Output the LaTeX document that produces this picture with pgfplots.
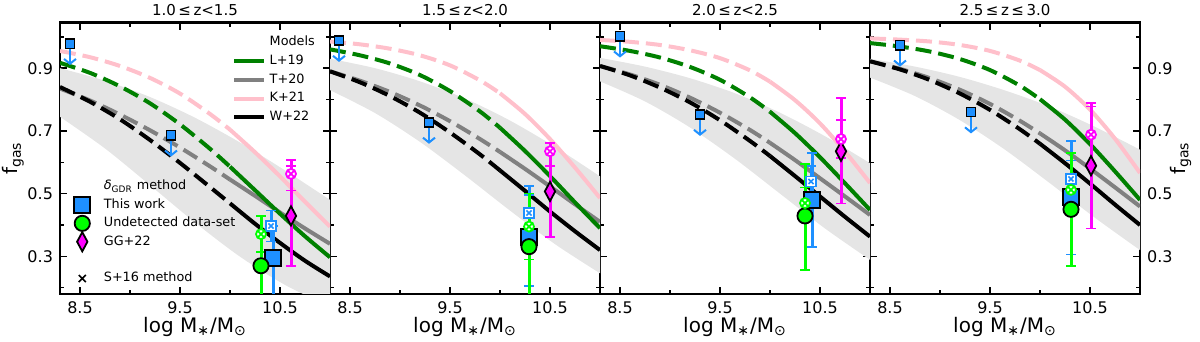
\documentclass[border=0pt]{standalone}
\usepackage{fontspec}
\setmainfont{DejaVu Sans}
\usepackage{pgfplots}
\pgfplotsset{compat=1.18}
\usepgfplotslibrary{groupplots,fillbetween}
\usetikzlibrary{arrows.meta,plotmarks}

\definecolor{mgreen}{HTML}{008000}
\definecolor{mgray}{HTML}{808080}
\definecolor{mpink}{HTML}{FFC0CB}
\definecolor{dblue}{HTML}{1E90FF}
\definecolor{lime}{HTML}{00FF00}
\definecolor{mag}{HTML}{FF00FF}
\definecolor{bandc}{HTML}{E5E5E5}

\pgfplotsset{
  panel/.style={width=135pt, height=135.65pt, scale only axis,
    xmin=8.3, xmax=11.0, ymin=0.18, ymax=1.045,
    xtick={8.5,9.5,10.5}, minor xtick={9,10,11},
    ytick={0.3,0.5,0.7,0.9}, minor ytick={0.2,0.4,0.6,0.8,1.0},
    tick align=inside, major tick length=3.5pt, minor tick length=2pt,
    every tick/.style={black, line width=0.7pt},
    axis line style={line width=1.4pt},
    tick label style={font=\fontsize{8}{9}\selectfont},
    xticklabel shift=0.5pt,
    /pgf/number format/assume math mode=true,
    /pgf/number format/fixed, /pgf/number format/precision=1, /pgf/number format/fixed zerofill,
    xlabel={log M\textsubscript{∗}/M\textsubscript{⊙}},
    xlabel shift=-5.5pt,
    label style={font=\fontsize{10}{11}\selectfont},
    every axis title shift=0pt,
    title style={font=\fontsize{7.5}{8}\selectfont},
    clip=true},
  mdash/.style={line width=2pt, dash pattern=on 8pt off 3.5pt, smooth, no marks},
  msol/.style={line width=2pt, smooth, no marks},
  bedge/.style={draw=none, smooth, no marks},
  ulimarrow/.style={dblue, line width=1pt, -{Straight Barb[length=2.4pt,width=6pt]}, quiver={u=0,v=-0.068}},
  ulim/.style={only marks, mark=square*, mark size=2.3pt, mark options={fill=dblue, draw=black, line width=0.8pt}},
  ebar/.style={only marks, error bars/y dir=both, error bars/y explicit,
    error bars/error bar style={line width=1.5pt, #1},
    error bars/error mark options={rotate=90, mark size=2.3pt, line width=0.8pt, #1}},
  thiswork/.style={ebar=dblue, mark=square*, mark size=4pt, mark options={fill=dblue, draw=black, line width=0.9pt}},
  sblue/.style={ebar=dblue, mark=square*, mark size=2.5pt, mark options={fill=white, draw=dblue, line width=0.8pt}},
  sbluex/.style={only marks, mark=x, mark size=1.8pt, mark options={draw=dblue, line width=0.8pt}},
  undet/.style={ebar=lime, mark=*, mark size=3.8pt, mark options={fill=lime, draw=black, line width=0.9pt}},
  sgreen/.style={ebar=lime, mark=otimes*, mark size=2.5pt, mark options={fill=white, draw=lime, line width=0.9pt}},
  gg/.style={ebar=mag, mark=diamond*, mark size=4.8pt, mark options={fill=mag, draw=black, line width=0.9pt, xscale=0.72}},
  smag/.style={ebar=mag, mark=otimes*, mark size=2.5pt, mark options={fill=white, draw=mag, line width=0.9pt}},
  legbox/.style={at={(group c1r1.south west)}, anchor=south west, width=135pt, height=135.65pt,
    scale only axis, hide axis, xmin=0, xmax=1, ymin=0, ymax=1, legend cell align=left},
}

\begin{document}
\begin{tikzpicture}
\begin{groupplot}[group style={group size=4 by 1, horizontal sep=0pt}, panel]

% ---------------- 1.0 <= z < 1.5
\nextgroupplot[title={1.0\,≤\,z<1.5}, ylabel={f\textsubscript{gas}}, ylabel near ticks, ylabel shift=-5pt]
\addplot[bedge, name path=u1] coordinates {(8.3,0.900)(8.75,0.860)(9.2,0.808)(9.65,0.742)(10.1,0.663)(10.55,0.574)(11.0,0.480)};
\addplot[bedge, name path=l1] coordinates {(8.3,0.745)(8.75,0.644)(9.2,0.527)(9.65,0.408)(10.1,0.299)(10.55,0.209)(11.0,0.140)};
\addplot[fill=bandc, draw=none] fill between[of=u1 and l1];
\addplot[mdash, mgray] coordinates {(8.3,0.835)(8.6,0.797)(8.9,0.752)(9.2,0.702)(9.5,0.647)(9.8,0.587)(10.0,0.545)};
\addplot[msol, mgray] coordinates {(10.0,0.545)(10.25,0.493)(10.5,0.440)(10.75,0.389)(11.0,0.340)};
\addplot[mdash, mpink] coordinates {(8.3,0.955)(8.6,0.935)(8.9,0.907)(9.2,0.869)(9.5,0.819)(9.8,0.754)(10.0,0.704)};
\addplot[msol, mpink] coordinates {(10.0,0.704)(10.25,0.632)(10.5,0.555)(10.75,0.474)(11.0,0.395)};
\addplot[mdash, mgreen] coordinates {(8.3,0.917)(8.6,0.885)(8.9,0.842)(9.2,0.788)(9.5,0.721)(9.8,0.643)(10.0,0.586)};
\addplot[msol, mgreen] coordinates {(10.0,0.586)(10.25,0.511)(10.5,0.436)(10.75,0.364)(11.0,0.297)};
\addplot[mdash, black] coordinates {(8.3,0.840)(8.6,0.793)(8.9,0.737)(9.2,0.671)(9.5,0.598)(9.8,0.521)(10.0,0.469)};
\addplot[msol, black] coordinates {(10.0,0.469)(10.25,0.404)(10.5,0.343)(10.75,0.286)(11.0,0.236)};
\addplot[ulimarrow] coordinates {(8.40,0.978)(9.41,0.686)};
\addplot[ulim] coordinates {(8.40,0.978)(9.41,0.686)};
\addplot[thiswork] coordinates {(10.43,0.296) += (0,0.10) -= (0,0.2)};
\addplot[sblue] coordinates {(10.41,0.397) +- (0,0.049)};
\addplot[sbluex] coordinates {(10.41,0.397)};
\addplot[undet] coordinates {(10.31,0.27) += (0,0.10) -= (0,0.2)};
\addplot[sgreen] coordinates {(10.31,0.371) +- (0,0.058)};
\addplot[gg] coordinates {(10.61,0.429) +- (0,0.159)};
\addplot[smag] coordinates {(10.61,0.563) += (0,0.045) -= (0,0.053)};

% ---------------- 1.5 <= z < 2.0
\nextgroupplot[title={1.5\,≤\,z<2.0}, yticklabels={}]
\addplot[bedge, name path=u2] coordinates {(8.3,0.930)(8.75,0.900)(9.2,0.858)(9.65,0.803)(10.1,0.733)(10.55,0.649)(11.0,0.555)};
\addplot[bedge, name path=l2] coordinates {(8.3,0.830)(8.75,0.757)(9.2,0.665)(9.65,0.558)(10.1,0.446)(10.55,0.339)(11.0,0.246)};
\addplot[fill=bandc, draw=none] fill between[of=u2 and l2];
\addplot[mdash, mgray] coordinates {(8.3,0.890)(8.6,0.860)(8.9,0.824)(9.2,0.781)(9.5,0.731)(9.8,0.674)(10.0,0.633)};
\addplot[msol, mgray] coordinates {(10.0,0.633)(10.25,0.579)(10.5,0.523)(10.75,0.466)(11.0,0.410)};
\addplot[mdash, mpink] coordinates {(8.3,0.985)(8.6,0.976)(8.9,0.962)(9.2,0.941)(9.5,0.909)(9.8,0.861)(10.0,0.820)};
\addplot[msol, mpink] coordinates {(10.0,0.820)(10.25,0.754)(10.5,0.674)(10.75,0.583)(11.0,0.486)};
\addplot[mdash, mgreen] coordinates {(8.3,0.960)(8.6,0.941)(8.9,0.915)(9.2,0.878)(9.5,0.827)(9.8,0.762)(10.0,0.710)};
\addplot[msol, mgreen] coordinates {(10.0,0.710)(10.25,0.636)(10.5,0.556)(10.75,0.472)(11.0,0.390)};
\addplot[mdash, black] coordinates {(8.3,0.890)(8.6,0.855)(8.9,0.811)(9.2,0.758)(9.5,0.695)(9.8,0.625)(10.0,0.574)};
\addplot[msol, black] coordinates {(10.0,0.574)(10.25,0.509)(10.5,0.443)(10.75,0.380)(11.0,0.320)};
\addplot[ulimarrow] coordinates {(8.39,0.988)(9.29,0.727)};
\addplot[ulim] coordinates {(8.39,0.988)(9.29,0.727)};
\addplot[thiswork] coordinates {(10.29,0.363) += (0,0.133) -= (0,0.157)};
\addplot[sblue] coordinates {(10.29,0.438) +- (0,0.087)};
\addplot[sbluex] coordinates {(10.29,0.438)};
\addplot[undet] coordinates {(10.29,0.331) += (0,0.10) -= (0,0.25)};
\addplot[sgreen] coordinates {(10.29,0.395) +- (0,0.105)};
\addplot[gg] coordinates {(10.50,0.507) += (0,0.154) -= (0,0.146)};
\addplot[smag] coordinates {(10.50,0.635) += (0,0.026) -= (0,0.046)};

% ---------------- 2.0 <= z < 2.5
\nextgroupplot[title={2.0\,≤\,z<2.5}, yticklabels={}]
\addplot[bedge, name path=u3] coordinates {(8.3,0.933)(8.75,0.905)(9.2,0.868)(9.65,0.820)(10.1,0.758)(10.55,0.683)(11.0,0.597)};
\addplot[bedge, name path=l3] coordinates {(8.3,0.858)(8.75,0.794)(9.2,0.711)(9.65,0.611)(10.1,0.500)(10.55,0.389)(11.0,0.289)};
\addplot[fill=bandc, draw=none] fill between[of=u3 and l3];
\addplot[mdash, mgray] coordinates {(8.3,0.907)(8.6,0.880)(8.9,0.847)(9.2,0.806)(9.5,0.758)(9.8,0.703)(10.0,0.662)};
\addplot[msol, mgray] coordinates {(10.0,0.662)(10.25,0.607)(10.5,0.549)(10.75,0.491)(11.0,0.432)};
\addplot[mdash, mpink] coordinates {(8.3,0.990)(8.6,0.984)(8.9,0.974)(9.2,0.957)(9.5,0.932)(9.8,0.893)(10.0,0.857)};
\addplot[msol, mpink] coordinates {(10.0,0.857)(10.25,0.798)(10.5,0.724)(10.75,0.634)(11.0,0.534)};
\addplot[mdash, mgreen] coordinates {(8.3,0.970)(8.6,0.955)(8.9,0.934)(9.2,0.904)(9.5,0.863)(9.8,0.807)(10.0,0.761)};
\addplot[msol, mgreen] coordinates {(10.0,0.761)(10.25,0.693)(10.5,0.616)(10.75,0.533)(11.0,0.448)};
\addplot[mdash, black] coordinates {(8.3,0.907)(8.6,0.877)(8.9,0.838)(9.2,0.791)(9.5,0.734)(9.8,0.668)(10.0,0.620)};
\addplot[msol, black] coordinates {(10.0,0.620)(10.25,0.556)(10.5,0.491)(10.75,0.426)(11.0,0.363)};
\addplot[ulimarrow] coordinates {(8.50,1.002)(9.30,0.752)};
\addplot[ulim] coordinates {(8.50,1.002)(9.30,0.752)};
\addplot[thiswork] coordinates {(10.42,0.48) += (0,0.15) -= (0,0.151)};
\addplot[sblue] coordinates {(10.41,0.539) +- (0,0.05)};
\addplot[sbluex] coordinates {(10.41,0.539)};
\addplot[undet] coordinates {(10.35,0.429) += (0,0.166) -= (0,0.172)};
\addplot[sgreen] coordinates {(10.35,0.47) +- (0,0.05)};
\addplot[gg] coordinates {(10.71,0.635) += (0,0.17) -= (0,0.167)};
\addplot[smag] coordinates {(10.71,0.674) +- (0,0.06)};

% ---------------- 2.5 <= z <= 3.0
\nextgroupplot[title={2.5\,≤\,z\,≤\,3.0}, yticklabel pos=right, ylabel={f\textsubscript{gas}}, ylabel near ticks, ylabel shift=-8pt]
\addplot[bedge, name path=u4] coordinates {(8.3,0.930)(8.75,0.905)(9.2,0.872)(9.65,0.829)(10.1,0.777)(10.55,0.713)(11.0,0.640)};
\addplot[bedge, name path=l4] coordinates {(8.3,0.870)(8.75,0.811)(9.2,0.734)(9.65,0.640)(10.1,0.533)(10.55,0.423)(11.0,0.320)};
\addplot[fill=bandc, draw=none] fill between[of=u4 and l4];
\addplot[mdash, mgray] coordinates {(8.3,0.922)(8.6,0.898)(8.9,0.868)(9.2,0.831)(9.5,0.786)(9.8,0.732)(10.0,0.692)};
\addplot[msol, mgray] coordinates {(10.0,0.692)(10.25,0.638)(10.5,0.580)(10.75,0.520)(11.0,0.459)};
\addplot[mdash, mpink] coordinates {(8.3,0.995)(8.6,0.991)(8.9,0.985)(9.2,0.974)(9.5,0.955)(9.8,0.924)(10.0,0.894)};
\addplot[msol, mpink] coordinates {(10.0,0.894)(10.25,0.841)(10.5,0.768)(10.75,0.675)(11.0,0.566)};
\addplot[mdash, mgreen] coordinates {(8.3,0.980)(8.6,0.969)(8.9,0.953)(9.2,0.929)(9.5,0.894)(9.8,0.844)(10.0,0.801)};
\addplot[msol, mgreen] coordinates {(10.0,0.801)(10.25,0.736)(10.5,0.658)(10.75,0.571)(11.0,0.480)};
\addplot[mdash, black] coordinates {(8.3,0.922)(8.6,0.896)(8.9,0.862)(9.2,0.819)(9.5,0.767)(9.8,0.705)(10.0,0.659)};
\addplot[msol, black] coordinates {(10.0,0.659)(10.25,0.597)(10.5,0.532)(10.75,0.465)(11.0,0.400)};
\addplot[ulimarrow] coordinates {(8.60,0.973)(9.31,0.76)};
\addplot[ulim] coordinates {(8.60,0.973)(9.31,0.76)};
\addplot[thiswork] coordinates {(10.31,0.49) += (0,0.116) -= (0,0.184)};
\addplot[sblue] coordinates {(10.31,0.547) += (0,0.12) -= (0,0.1)};
\addplot[sbluex] coordinates {(10.31,0.547)};
\addplot[undet] coordinates {(10.31,0.45) +- (0,0.18)};
\addplot[sgreen] coordinates {(10.31,0.512) +- (0,0.05)};
\addplot[gg] coordinates {(10.51,0.589) +- (0,0.2)};
\addplot[smag] coordinates {(10.51,0.688) +- (0,0.09)};
\end{groupplot}

% legends of panel 1
\begin{axis}[legbox,
  legend style={at={(rel axis cs:0.636,0.958)}, anchor=north west, draw=none, fill=none, inner sep=0pt,
    font=\fontsize{6.4}{7.5}\selectfont, row sep=1.35pt,
    nodes={inner sep=0.8pt, text height=4.9pt, text depth=1.5pt}},
  legend image code/.code={\draw[#1] (0pt,0pt) -- (15pt,0pt); \path[draw=none, fill=none] (0pt,-3pt) rectangle (17pt,3pt);}]
\addlegendimage{empty legend}\addlegendentry{Models}
\addlegendimage{mgreen, line width=2pt}\addlegendentry{L+19}
\addlegendimage{mgray, line width=2pt}\addlegendentry{T+20}
\addlegendimage{mpink, line width=2pt}\addlegendentry{K+21}
\addlegendimage{black, line width=2pt}\addlegendentry{W+22}
\end{axis}
\begin{axis}[legbox,
  legend style={at={(rel axis cs:0.044,0.026)}, anchor=south west, draw=none, fill=none, inner sep=0pt,
    font=\fontsize{6.4}{7.5}\selectfont, row sep=1.2pt,
    nodes={inner sep=0.8pt, text height=4.9pt, text depth=1.5pt}},
  legend image code/.code={\begin{scope}[overlay]\draw[#1] plot coordinates {(5pt,0pt)};\end{scope}\path[draw=none, fill=none] (0pt,-3pt) rectangle (15pt,3pt);}]
\addlegendimage{empty legend}\addlegendentry{\textit{δ}\textsubscript{GDR} method}
\addlegendimage{only marks, mark=square*, mark size=4pt, mark options={fill=dblue, draw=black, line width=0.9pt}}\addlegendentry{This work}
\addlegendimage{only marks, mark=*, mark size=3.8pt, mark options={fill=lime, draw=black, line width=0.9pt}}\addlegendentry{Undetected data-set}
\addlegendimage{only marks, mark=diamond*, mark size=4.8pt, mark options={fill=mag, draw=black, line width=0.9pt, xscale=0.72}}\addlegendentry{GG+22}
\addlegendimage{empty legend}\addlegendentry{}
\addlegendimage{only marks, mark=x, mark size=2.5pt, mark options={draw=black, line width=0.8pt}}\addlegendentry{S+16 method}
\end{axis}

\pgfresetboundingbox
\path[use as bounding box] ([shift={(-30pt,-24pt)}]group c1r1.south west) rectangle ([shift={(30pt,11.35pt)}]group c4r1.north east);
\end{tikzpicture}
\end{document}
